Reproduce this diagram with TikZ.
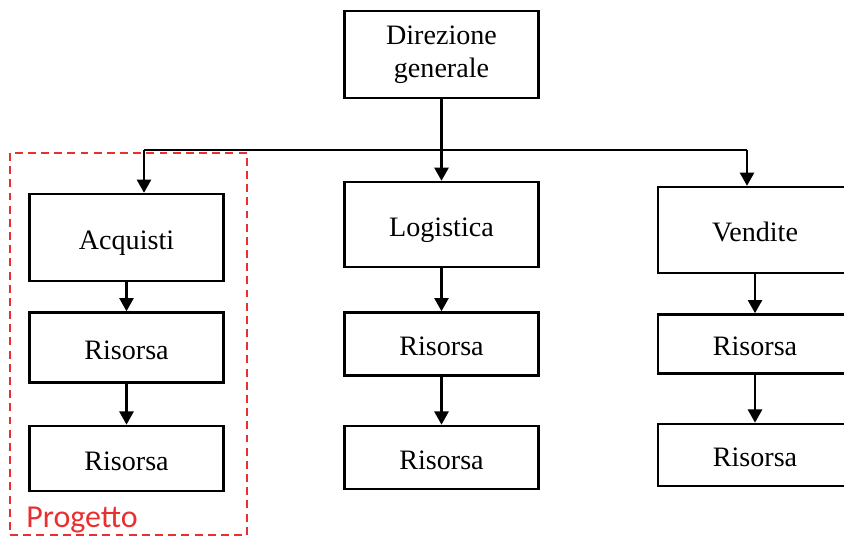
\documentclass[tikz,border=0pt]{standalone}
\usepackage{fontspec}
\setmainfont{Liberation Serif}
\newfontfamily\progfont{Carlito}
\usepackage{tikz}
\usetikzlibrary{positioning}
\usetikzlibrary{arrows.meta}
\definecolor{progred}{RGB}{232,48,48}

\begin{document}
\begin{tikzpicture}[
  x=0.02cm, y=-0.02cm,
  node distance=0.8cm,
  unit/.style={rectangle, draw, line width=1.4pt, minimum width=3.88cm, minimum height=1.26cm, align=center, inner sep=2pt, fill=white, font=\fontsize{16}{19}\selectfont},
  oneline/.style={text height=17pt, text depth=3.4pt},
  link/.style={line width=1.4pt},
  arrow/.style={-{Triangle[length=7.5pt, width=8pt]}, line width=1.4pt},
  project/.style={draw=progred, line width=1.3pt, dash pattern=on 4.5pt off 3pt}
]
  \clip (0,0) rectangle (844,538);

  \node[unit, minimum height=1.74cm] (dir) at (441.5,54.5) {Direzione\\generale};

  \node[unit, oneline, minimum height=1.74cm] (acq) at (126.5,237.5) {Acquisti};
  \node[unit, oneline, minimum height=1.4cm, below=0.58cm of acq] (ris1) {Risorsa};
  \node[unit, oneline, minimum height=1.3cm, below=0.82cm of ris1] (ris2) {Risorsa};

  \node[unit, oneline, minimum height=1.7cm] (log) at (441.5,224.5) {Logistica};
  \node[unit, oneline, below=0.86cm of log] (ris3) {Risorsa};
  \node[unit, oneline, below=0.96cm of ris3] (ris4) {Risorsa};

  \node[unit, oneline, minimum height=1.72cm] (ven) at (755,230) {Vendite};
  \node[unit, oneline, minimum height=1.18cm, below=0.78cm of ven] (ris5) {Risorsa};
  \node[unit, oneline, minimum height=1.24cm, below=0.96cm of ris5] (ris6) {Risorsa};

  % bus
  \coordinate (busL) at (144,150);
  \coordinate (busR) at (747,150);
  \draw[link] (busL) -- (busR);
  \draw[arrow] (dir) -- (log);
  \draw[arrow] (busL) -- (busL |- acq.north);
  \draw[arrow] (busR) -- (busR |- ven.north);

  \draw[arrow] (acq) -- (ris1);
  \draw[arrow] (ris1) -- (ris2);
  \draw[arrow] (log) -- (ris3);
  \draw[arrow] (ris3) -- (ris4);
  \draw[arrow] (ven) -- (ris5);
  \draw[arrow] (ris5) -- (ris6);

  % progetto
  \draw[project] (10,153) rectangle (247,535);
  \node[anchor=base west, inner sep=0pt, text=progred, font=\progfont\fontsize{18.2}{21}\selectfont] (proj) at (26,527) {Progetto};
\end{tikzpicture}
\end{document}
